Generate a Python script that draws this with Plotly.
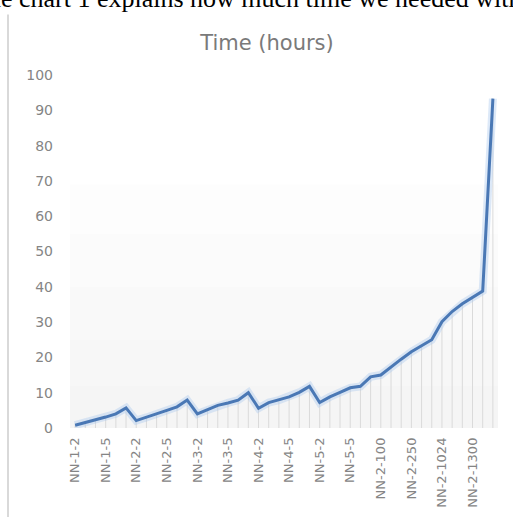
import plotly.graph_objects as go

categories = [
    'NN-1-2', 'NN-1-3', 'NN-1-4', 'NN-1-5', 'NN-1-6', 'NN-1-7',
    'NN-2-2', 'NN-2-3', 'NN-2-4', 'NN-2-5', 'NN-2-6', 'NN-2-7',
    'NN-3-2', 'NN-3-3', 'NN-3-4', 'NN-3-5', 'NN-3-6', 'NN-3-7',
    'NN-4-2', 'NN-4-3', 'NN-4-4', 'NN-4-5', 'NN-4-6', 'NN-4-7',
    'NN-5-2', 'NN-5-3', 'NN-5-4', 'NN-5-5', 'NN-5-6', 'NN-5-7',
    'NN-2-100', 'NN-2-150', 'NN-2-200', 'NN-2-250', 'NN-2-300', 'NN-2-512',
    'NN-2-1024', 'NN-2-1100', 'NN-2-1200', 'NN-2-1300', 'NN-2-1400', 'NN-2-1500',
]
hours = [
    0.8, 1.5, 2.3, 3.1, 4.0, 5.7,
    2.1, 3.0, 3.9, 5.0, 6.0, 7.9,
    4.0, 5.1, 6.4, 7.1, 7.9, 10.0,
    5.6, 7.2, 7.9, 8.8, 10.1, 11.8,
    7.2, 8.8, 10.1, 11.4, 11.8, 14.5,
    15.0, 17.3, 19.5, 21.6, 23.3, 25.0,
    30.1, 33.0, 35.2, 37.0, 38.8, 93.3,
]
tick_labels = ['NN-1-2', 'NN-1-5', 'NN-2-2', 'NN-2-5', 'NN-3-2', 'NN-3-5', 'NN-4-2',
               'NN-4-5', 'NN-5-2', 'NN-5-5', 'NN-2-100', 'NN-2-250', 'NN-2-1024', 'NN-2-1300']
y_ticks = [0, 10, 20, 30, 40, 50, 60, 70, 80, 90, 100]

W, H = 513, 517
L, R, T, B = 70, 15, 75, 89
pw = W - L - R
ph = H - T - B

def px_x(p):
    return (p - L) / pw

def px_y(p):
    return (H - B - p) / ph

fig = go.Figure()

# drop lines
fig.add_trace(go.Scatter(
    x=categories, y=hours, mode='markers',
    marker=dict(size=0.1, color='rgba(0,0,0,0)'),
    error_y=dict(type='data', symmetric=False, array=[0] * len(hours), arrayminus=hours,
                 color='#dadada', thickness=1, width=0),
    hoverinfo='skip', showlegend=False,
))
# glow
fig.add_trace(go.Scatter(
    x=categories, y=hours, mode='lines',
    line=dict(color='rgba(170,200,238,0.4)', width=8),
    hoverinfo='skip', showlegend=False,
))
fig.add_trace(go.Scatter(
    x=categories, y=hours, mode='lines',
    line=dict(color='#4a78b5', width=3),
    name='Time (hours)', showlegend=False,
))

# soft background band (fades toward the top)
band_shapes = []
for top in [69, 55, 40, 25, 12]:
    band_shapes.append(dict(type='rect', xref='paper', yref='y', x0=0, x1=1, y0=0, y1=top,
                            fillcolor='rgba(0,0,0,0.008)', line=dict(width=0), layer='below'))

fig.update_layout(
    width=W, height=H,
    margin=dict(l=L, r=R, t=T, b=B, autoexpand=False),
    paper_bgcolor='white', plot_bgcolor='white',
    title=dict(text='Time (hours)', x=px_x(267), xref='paper', xanchor='center',
               y=1 - 43 / H, yref='container', yanchor='middle',
               font=dict(family='DejaVu Sans', size=21, color='#7a7a7a')),
    xaxis=dict(type='category', range=[-0.5, len(categories) - 0.5], automargin=False,
               tickmode='array', tickvals=tick_labels, ticktext=tick_labels,
               tickangle=-90, showgrid=False, showline=False, zeroline=False, ticks='',
               ticklabelstandoff=6,
               tickfont=dict(family='DejaVu Sans', size=13, color='#858585')),
    yaxis=dict(range=[0, 100], tickmode='array', tickvals=y_ticks, automargin=False,
               showgrid=False, showline=False, zeroline=False, ticks='',
               ticklabelstandoff=16,
               tickfont=dict(family='DejaVu Sans', size=14, color='#858585')),
    shapes=band_shapes + [
        dict(type='rect', xref='paper', yref='paper', x0=px_x(8), x1=px_x(540),
             y0=px_y(540), y1=px_y(10), fillcolor='rgba(0,0,0,0)',
             line=dict(color='#d9d9d9', width=2), layer='below'),
    ],
    annotations=[
        dict(text='The chart 1 explains how much time we needed with', xref='paper', yref='paper',
             x=px_x(-30), y=px_y(15), xanchor='left', yanchor='bottom', showarrow=False,
             font=dict(family='Liberation Serif', size=26, color='black'),
             bgcolor='white'),
    ],
)

fig.write_html('out.html')
